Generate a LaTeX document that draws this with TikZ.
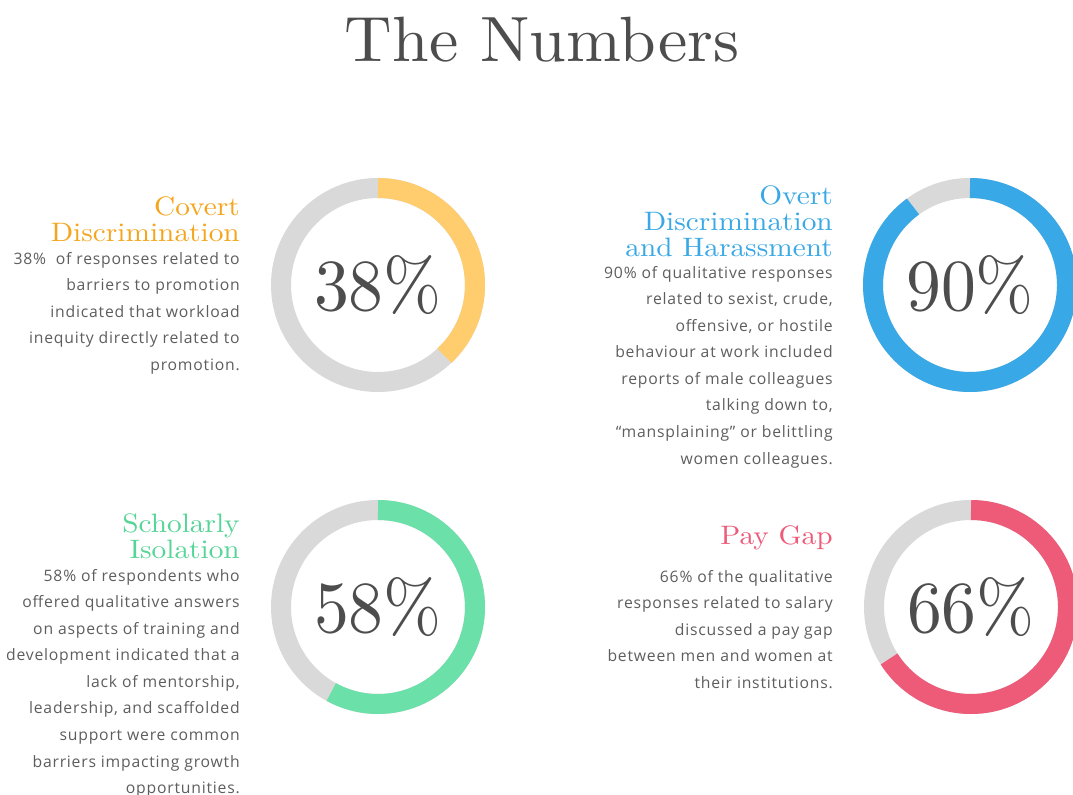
\documentclass[tikz,border=0pt]{standalone}
\usepackage{fontspec}
\newfontfamily\bodyfont[LetterSpace=5]{Open Sans}
\newfontfamily\displayfont[Extension=.otf, FakeStretch=1.1]{lmroman10-regular}
\newfontfamily\titlefont[Extension=.otf, FakeStretch=1.03]{lmroman10-regular}
\newfontfamily\pctfont[Extension=.otf, FakeStretch=0.95]{lmroman10-regular}
\definecolor{ringgray}{HTML}{D9D9D9}
\definecolor{inkgray}{HTML}{5E5E5E}
\definecolor{titlegray}{HTML}{4D4D4D}
\definecolor{covertyellow}{HTML}{FFCD6E}
\definecolor{covertorange}{HTML}{F5A51C}
\definecolor{overtblue}{HTML}{38A8E6}
\definecolor{isogreen}{HTML}{6BE0A9}
\definecolor{isogreentxt}{HTML}{55D596}
\definecolor{paypink}{HTML}{EE5B79}
\tikzset{
  ringbase/.style={draw=ringgray, line width=15pt},
  ringpart/.style={draw=#1, line width=15pt},
  pct/.style={font=\pctfont\fontsize{55pt}{55pt}\selectfont, text=titlegray},
  heading/.style={anchor=north east, inner sep=0pt, align=right, text=#1,
    font=\displayfont\fontsize{20pt}{19.5pt}\selectfont},
  bodytext/.style={anchor=north east, inner sep=0pt, align=right, text=inkgray,
    font=\bodyfont\fontsize{11.8pt}{19.9pt}\selectfont}
}

\begin{document}
\begin{tikzpicture}[x=0.75pt,y=0.75pt]
    \useasboundingbox[fill=white] (0,0) rectangle (1073,794);

    % Title
    \node[anchor=base, text=titlegray, font=\titlefont\fontsize{48pt}{48pt}\selectfont] (title) at (542,732) {The Numbers};

    % Rings
    \draw[ringbase] (378,509) circle (97);
    \draw[ringpart=covertyellow] (378,509) ++(90:97) arc[start angle=90, delta angle=-136.8, radius=97];
    \node[pct] (p38) at (378,509) {38\%};

    \draw[ringbase] (970,509) circle (97);
    \draw[ringpart=overtblue] (970,509) ++(90:97) arc[start angle=90, delta angle=-324, radius=97];
    \node[pct] (p90) at (970,509) {90\%};

    \draw[ringbase] (378,187) circle (97);
    \draw[ringpart=isogreen] (378,187) ++(90:97) arc[start angle=90, delta angle=-208.8, radius=97];
    \node[pct] (p58) at (378,187) {58\%};

    \draw[ringbase] (971,187) circle (97);
    \draw[ringpart=paypink] (971,187) ++(90:97) arc[start angle=90, delta angle=-237.6, radius=97];
    \node[pct] (p66) at (971,187) {66\%};

    % Labels
    \node[heading=covertorange] (covert) at (240,598) {Covert\\Discrimination};
    \node[bodytext] (covertbody) at (240,542) {38\%\ \ of responses related to\\barriers to promotion\\indicated that workload\\inequity directly related to\\promotion.\hspace{6pt}};

    \node[heading=overtblue] (overt) at (833,609) {Overt\\Discrimination\\and Harassment\hspace{5pt}};
    \node[bodytext] (overtbody) at (833,528) {90\% of qualitative responses\\related to sexist, crude,\\offensive, or hostile\\behaviour at work included\\reports of male colleagues\\talking down to,\\“mansplaining” or belittling\\women colleagues.};

    \node[heading=isogreentxt] (isolation) at (240,281) {Scholarly\\Isolation};
    \node[bodytext] (isolationbody) at (240,225) {58\% of respondents who\\offered qualitative answers\\on aspects of training and\\development indicated that a\\lack of mentorship,\\leadership, and scaffolded\\support were common\\barriers impacting growth\\opportunities.};

    \node[heading=paypink] (paygap) at (833,269) {Pay Gap};
    \node[bodytext] (paygapbody) at (833,224) {66\% of the qualitative\\responses related to salary\\discussed a pay gap\\between men and women at\\their institutions.\hspace{3pt}};
\end{tikzpicture}
\end{document}
